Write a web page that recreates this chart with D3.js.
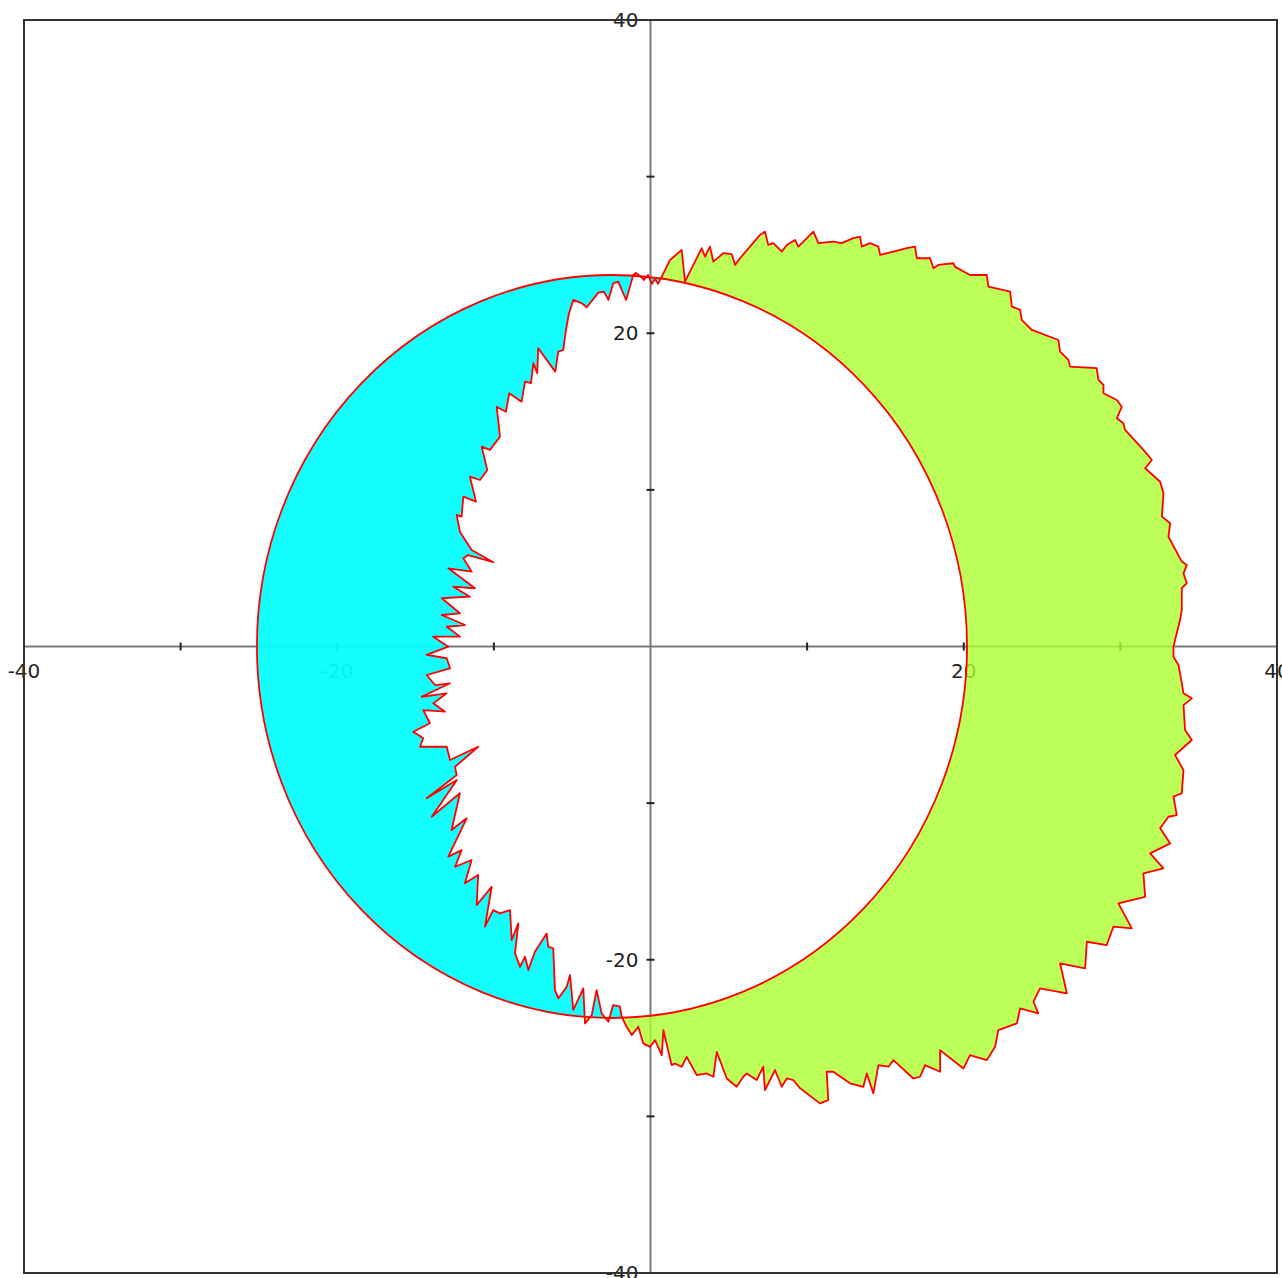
<!DOCTYPE html>
<html><head><meta charset="utf-8">
<script src="https://cdn.jsdelivr.net/npm/d3@7"></script>
<style>body{margin:0;background:#fff}svg{display:block}</style>
</head><body>
<svg id="chart" width="1282" height="1278"></svg>
<script>
const xDomain = [-40, 40];
const yDomain = [-40, 40];
const tickValues = [-30, -20, -10, 10, 20, 30];
const xLabelValues = [-40, -20, 20, 40];
const xLabelTexts = ["-40", "-20", "20", "40"];
const yLabelValues = [-40, -20, 20, 40];
const yLabelTexts = ["-40", "-20", "20", "40"];
const ellipseCenter = [-2.46, 0];
const ellipseRadii = [22.67, 23.72];

const curveX = [
-1.10,-1.31,-1.56,-2.06,-2.38,-2.69,-2.97,-3.33,-4.07,-4.39,
-4.93,-5.20,-5.40,-5.57,-5.89,-6.08,-7.17,-7.23,-7.48,-7.63,
-8.01,-8.23,-9.02,-9.23,-9.82,-9.61,-10.25,-10.78,-10.42,-10.89,
-11.53,-11.14,-11.95,-12.06,-12.38,-12.17,
-11.42,-10.04,-11.64,-11.95,-11.42,-12.91,-11.21,-12.59,-11.53,-13.33,
-12.17,-13.33,-11.85,-13.01,-12.17,-13.87,-12.91,-14.29,-13.01,-12.80,
-14.29,-13.76,-12.80,-14.61,-13.01,-13.87,-13.12,-14.51,-14.08,-15.15,
-14.51,-14.72,-13.01,-12.80,-11.00,-12.48,-12.38,
-14.29,-12.36,-13.97,-12.17,-12.70,-11.74,-12.91,-12.06,-12.48,-11.42,
-11.85,-11.00,-11.10,-10.14,-10.57,-10.04,-9.61,-8.97,-8.86,-8.44,
-8.65,-8.33,-8.01,-7.80,-7.38,-6.63,-6.53,-6.21,-6.10,-5.89,
-5.35,-5.14,-4.93,-4.29,-4.18,-3.75,-3.44,-3.12,-2.69,-2.38,
-1.95,-1.84,
-1.52,-1.20,-0.78,-0.46,-0.03,0.29,0.72,0.82,1.35,1.56,
1.99,2.31,2.95,3.59,4.01,4.23,4.87,5.50,5.93,6.14,
6.78,7.20,7.31,7.95,8.38,8.70,9.12,9.55,10.82,11.35,
11.25,11.67,12.74,13.59,13.81,14.23,14.55,15.19,15.51,16.78,
17.21,17.53,18.49,18.49,19.98,20.40,21.47,22.00,22.21,23.39,
23.60,
24.76,24.45,24.87,26.58,26.15,27.75,27.86,29.13,29.55,30.73,
29.87,31.58,31.47,32.75,31.90,33.18,32.54,33.07,33.60,33.39,
33.92,34.03,33.49,34.56,34.13,34.03,34.56,34.03,33.81,33.71,
33.39,33.39,
33.49,33.81,33.92,33.92,34.24,34.03,34.24,33.92,33.18,33.07,
33.18,32.65,32.75,32.54,31.58,32.01,31.47,30.30,30.19,29.77,
30.09,29.77,28.92,28.92,28.60,28.49,26.79,26.68,26.15,26.04,
24.34,23.70,23.60,23.07,22.96,21.57,21.47,
20.40,19.45,19.34,18.38,18.06,17.85,17.00,16.89,16.36,15.51,
14.66,14.55,14.02,13.49,13.38,12.95,12.21,11.67,10.72,10.40,
9.44,9.23,8.70,8.38,7.84,7.52,7.31,6.99,5.72,5.40,
5.19,4.65,4.01,3.80,3.48,3.27,2.20,1.99,1.25,0.72,
0.48,0.29,0.10,-0.16,-0.42,-0.67,-0.93
];
const curveY = [
23.72,22.98,22.13,23.30,23.19,22.13,22.66,22.59,21.66,21.92,
22.13,21.28,20.21,18.93,18.83,17.55,19.04,17.45,18.09,16.81,
16.91,15.63,16.17,14.99,15.31,13.40,12.55,12.76,11.27,10.63,
10.84,9.25,9.57,8.29,8.40,7.33,
6.16,5.38,5.84,5.63,4.78,4.99,3.72,3.82,3.18,3.08,
2.12,2.01,1.37,1.26,0.63,0.63,-0.01,-0.54,-0.75,-1.39,
-1.82,-2.46,-2.35,-3.21,-2.99,-3.63,-4.16,-4.06,-4.90,-5.44,
-5.86,-6.40,-6.40,-7.25,-6.40,-7.68,-8.21,
-9.69,-8.53,-10.87,-9.37,-11.72,-10.97,-13.42,-13.00,-14.06,-13.63,
-15.12,-14.59,-16.51,-15.34,-17.89,-16.83,-17.04,-16.83,-18.74,-17.68,
-19.59,-20.45,-19.81,-20.66,-19.49,-18.32,-19.17,-19.27,-21.94,-22.47,
-21.73,-20.98,-23.21,-21.83,-24.06,-23.53,-21.94,-23.42,-23.96,-22.89,
-23.00,-23.64,
-24.28,-24.81,-24.28,-25.34,-25.56,-25.13,-26.09,-24.49,-26.73,-26.62,
-26.83,-26.20,-27.36,-27.26,-27.47,-25.88,-27.58,-28.11,-27.47,-27.26,
-27.68,-26.83,-28.32,-27.04,-28.11,-27.58,-27.68,-28.21,-29.17,-28.96,
-27.15,-27.15,-27.89,-28.11,-27.26,-28.53,-26.73,-26.83,-26.41,-27.58,
-27.47,-26.73,-27.15,-25.77,-26.94,-26.09,-26.41,-25.56,-24.49,-24.06,
-23.10,
-23.42,-22.68,-21.83,-22.15,-20.23,-20.55,-18.85,-19.06,-17.89,-18.00,
-16.40,-15.98,-14.48,-14.16,-13.21,-12.57,-11.61,-10.87,-10.76,-9.59,
-9.37,-7.89,-6.93,-5.97,-5.33,-3.74,-3.31,-2.99,-1.71,-1.18,
-0.65,-0.01,
0.42,1.69,2.33,3.72,4.04,4.67,5.20,5.42,6.80,7.01,
7.87,8.29,9.78,10.52,11.38,11.91,12.55,13.83,14.25,14.57,
15.31,15.74,16.17,16.70,17.02,17.77,17.87,18.30,18.83,19.57,
20.21,20.85,21.49,21.70,22.66,22.98,23.72,
23.72,24.24,24.47,24.36,24.15,24.79,24.79,25.53,25.43,25.21,
25.00,25.53,25.75,25.53,26.17,26.07,25.75,25.85,25.75,26.49,
25.53,25.96,25.64,25.21,25.75,25.64,26.49,26.28,24.79,24.36,
25.05,25.11,24.57,25.53,24.89,25.43,23.30,25.32,24.68,23.62,
23.15,23.47,23.15,23.72,23.40,23.66,23.85
];

const W = 1282, H = 1278;
const svg = d3.select("#chart");
const x = d3.scaleLinear(xDomain, [24, 1277]);
const y = d3.scaleLinear(yDomain, [1273, 20]);

const axisColor = "#7a7a7a";
const frameColor = "#333";
const textColor = "#222";
const font = "'DejaVu Sans', sans-serif";

svg.append("line").attr("x1", x(xDomain[0])).attr("x2", x(xDomain[1]))
  .attr("y1", y(0)).attr("y2", y(0)).attr("stroke", axisColor).attr("stroke-width", 2);
svg.append("line").attr("y1", y(yDomain[0])).attr("y2", y(yDomain[1]))
  .attr("x1", x(0)).attr("x2", x(0)).attr("stroke", axisColor).attr("stroke-width", 2);

svg.selectAll(".xt").data(tickValues).join("line")
  .attr("x1", d => x(d)).attr("x2", d => x(d))
  .attr("y1", y(0) - 4).attr("y2", y(0) + 4)
  .attr("stroke", "#222").attr("stroke-width", 2);
svg.selectAll(".yt").data(tickValues).join("line")
  .attr("y1", d => y(d)).attr("y2", d => y(d))
  .attr("x1", x(0) - 4).attr("x2", x(0) + 4)
  .attr("stroke", "#222").attr("stroke-width", 2);

svg.selectAll(".xl").data(xLabelValues).join("text")
  .attr("x", d => x(d)).attr("y", y(0) + 31)
  .attr("text-anchor", "middle").attr("font-family", font).attr("font-size", 20)
  .attr("fill", textColor).text((d, i) => xLabelTexts[i]);
svg.selectAll(".yl").data(yLabelValues).join("text")
  .attr("x", x(0) - 12).attr("y", d => y(d))
  .attr("dy", "0.36em")
  .attr("text-anchor", "end").attr("font-family", font).attr("font-size", 20)
  .attr("fill", textColor).text((d, i) => yLabelTexts[i]);

const pts = curveX.map((v, i) => [v, curveY[i]]);
const line = d3.line().x(d => x(d[0])).y(d => y(d[1])).curve(d3.curveLinearClosed);
const jagD = line(pts);
const ecx = x(ellipseCenter[0]), ecy = y(ellipseCenter[1]);
const erx = x(ellipseCenter[0] + ellipseRadii[0]) - ecx;
const ery = ecy - y(ellipseCenter[1] + ellipseRadii[1]);

const defs = svg.append("defs");
const mC = defs.append("mask").attr("id", "mCyan").attr("maskUnits", "userSpaceOnUse")
  .attr("x", 0).attr("y", 0).attr("width", W).attr("height", H);
mC.append("ellipse").attr("cx", ecx).attr("cy", ecy).attr("rx", erx).attr("ry", ery).attr("fill", "#fff");
mC.append("path").attr("d", jagD).attr("fill", "#000");
const mG = defs.append("mask").attr("id", "mGreen").attr("maskUnits", "userSpaceOnUse")
  .attr("x", 0).attr("y", 0).attr("width", W).attr("height", H);
mG.append("path").attr("d", jagD).attr("fill", "#fff");
mG.append("ellipse").attr("cx", ecx).attr("cy", ecy).attr("rx", erx).attr("ry", ery).attr("fill", "#000");

svg.append("ellipse").attr("cx", ecx).attr("cy", ecy).attr("rx", erx).attr("ry", ery)
  .attr("fill", "#00ffff").attr("fill-opacity", 0.93).attr("mask", "url(#mCyan)");
svg.append("path").attr("d", jagD)
  .attr("fill", "#adff2f").attr("fill-opacity", 0.8).attr("mask", "url(#mGreen)");

svg.append("ellipse").attr("cx", ecx).attr("cy", ecy).attr("rx", erx).attr("ry", ery)
  .attr("fill", "none").attr("stroke", "#ff0000").attr("stroke-width", 1.8);
svg.append("path").attr("d", jagD).attr("fill", "none")
  .attr("stroke", "#ff0000").attr("stroke-width", 1.8).attr("stroke-linejoin", "round");

svg.append("rect").attr("x", x(xDomain[0])).attr("y", y(yDomain[1]))
  .attr("width", x(xDomain[1]) - x(xDomain[0])).attr("height", y(yDomain[0]) - y(yDomain[1]))
  .attr("fill", "none").attr("stroke", frameColor).attr("stroke-width", 2);
</script>
</body></html>
